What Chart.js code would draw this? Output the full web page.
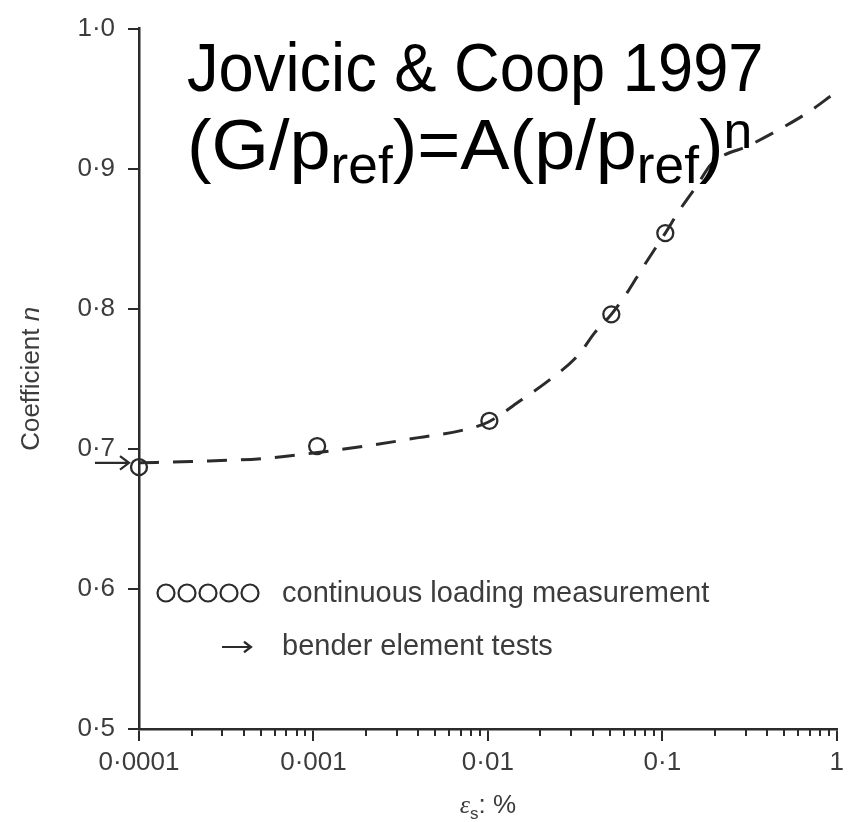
<!DOCTYPE html>
<html>
<head>
<meta charset="utf-8">
<script src="https://cdn.jsdelivr.net/npm/chart.js@4/dist/chart.umd.min.js"></script>
<style>
html,body{margin:0;padding:0;background:#fff;}
#wrap{position:relative;width:850px;height:822px;overflow:hidden;}
canvas{position:absolute;left:0;top:0;}
.tl{position:absolute;left:187px;font-family:"Liberation Sans",Arial,Helvetica,sans-serif;line-height:1;color:#000;white-space:nowrap;transform-origin:0 0;}
.tl .sb{font-size:0.72em;position:relative;top:0.27em;}
.tl .sp{font-size:0.7em;position:relative;top:-0.42em;}
</style>
</head>
<body>
<div id="wrap">
<canvas id="c" width="850" height="822"></canvas>
<div class="tl" id="t1" style="top:33px;font-size:68px;transform:scaleX(0.93);">Jovicic &amp; Coop 1997</div>
<div class="tl" id="t2" style="top:109px;font-size:71px;transform:scaleX(1.04);">(G/p<span class="sb">ref</span>)=A(p/p<span class="sb">ref</span>)<span class="sp">n</span></div>
</div>
<script>
// ---- data ----
const curveX = [0.0001,0.0002,0.0005,0.001,0.002,0.004,0.007,0.01,0.0156,0.023,0.033,0.041,0.051,0.064,0.076,0.091,0.104,0.125,0.16,0.19,0.32,0.5,0.7,0.95];
const curveY = [0.690,0.691,0.693,0.697,0.702,0.708,0.713,0.719,0.735,0.750,0.767,0.783,0.796,0.813,0.828,0.843,0.854,0.870,0.889,0.903,0.917,0.930,0.941,0.953];
const measX = [0.0001,0.00105,0.0102,0.051,0.104];
const measY = [0.687,0.702,0.720,0.796,0.854];
const benderX = [0.0001];
const benderY = [0.690];
const xTickValues = [0.0001,0.001,0.01,0.1,1];
const xTickLabels = ['0·0001','0·001','0·01','0·1','1'];
const yTickValues = [0.5,0.6,0.7,0.8,0.9,1.0];
const yTickLabels = ['0·5','0·6','0·7','0·8','0·9','1·0'];
const legendLabels = ['continuous loading measurement','bender element tests'];

const FONT = '"Liberation Sans", Arial, Helvetica, sans-serif';
const INK = '#2b2b2b';
const TXT = '#3c3c3c';

function arrow(ctx, x0, y0, x1, head){
  ctx.beginPath();
  ctx.moveTo(x0,y0); ctx.lineTo(x1,y0);
  ctx.moveTo(x1-head, y0-head*0.75); ctx.lineTo(x1,y0); ctx.lineTo(x1-head, y0+head*0.75);
  ctx.stroke();
}

const extras = {
  id:'extras',
  afterDraw(chart){
    const {ctx, scales:{x,y}, chartArea:ca} = chart;
    ctx.save();
    // minor log ticks
    ctx.strokeStyle = INK; ctx.lineWidth = 2;
    for(let i=0;i<xTickValues.length-1;i++){
      for(let k=2;k<=9;k++){
        const px = Math.round(x.getPixelForValue(xTickValues[i]*k));
        ctx.beginPath(); ctx.moveTo(px, ca.bottom); ctx.lineTo(px, ca.bottom+7); ctx.stroke();
      }
    }
    // bender element arrow
    ctx.lineWidth = 2.2;
    const bx = x.getPixelForValue(benderX[0]) - 10;
    const by = y.getPixelForValue(benderY[0]);
    arrow(ctx, bx-34, by, bx, 9);
    // legend
    ctx.lineWidth = 2.2;
    for(let i=0;i<5;i++){
      ctx.beginPath(); ctx.arc(166+i*21, 593, 8.5, 0, Math.PI*2); ctx.stroke();
    }
    ctx.fillStyle = TXT;
    ctx.font = '29px ' + FONT;
    ctx.textBaseline = 'middle'; ctx.textAlign = 'left';
    ctx.fillText(legendLabels[0], 282, 594);
    arrow(ctx, 222, 647, 251, 7);
    ctx.fillText(legendLabels[1], 282, 647);
    // y axis title
    ctx.save();
    ctx.translate(32, (ca.top+ca.bottom)/2);
    ctx.rotate(-Math.PI/2);
    ctx.font = '26px ' + FONT; const wa = ctx.measureText('Coefficient ').width;
    ctx.font = 'italic 26px ' + FONT; const wn = ctx.measureText('n').width;
    let sx = -(wa+wn)/2;
    ctx.textAlign='left';
    ctx.font = '26px ' + FONT; ctx.fillText('Coefficient ', sx, 0);
    ctx.font = 'italic 26px ' + FONT; ctx.fillText('n', sx+wa, 0);
    ctx.restore();
    // x axis title
    const cx = (ca.left+ca.right)/2, cy = 806;
    ctx.font = 'italic 26px "Liberation Serif", serif'; const we = ctx.measureText('ε').width;
    ctx.font = '17px ' + FONT; const ws = ctx.measureText('s').width;
    ctx.font = '26px ' + FONT; const wr = ctx.measureText(': %').width;
    let xx = cx - (we+ws+wr)/2;
    ctx.font = 'italic 26px "Liberation Serif", serif'; ctx.fillText('ε', xx, cy); xx += we;
    ctx.font = '17px ' + FONT; ctx.fillText('s', xx, cy+8); xx += ws;
    ctx.font = '26px ' + FONT; ctx.fillText(': %', xx, cy);
    ctx.restore();
  }
};

new Chart(document.getElementById('c'), {
  type:'line',
  data:{
    datasets:[
      {
        label:'curve',
        data: curveX.map((v,i)=>({x:v,y:curveY[i]})),
        borderColor: INK, borderWidth: 3, borderDash:[20,14],
        pointRadius:0, fill:false, cubicInterpolationMode:'monotone'
      },
      {
        label: legendLabels[0],
        data: measX.map((v,i)=>({x:v,y:measY[i]})),
        showLine:false, pointRadius:8, pointBorderWidth:2.3,
        pointBorderColor: INK, pointBackgroundColor:'rgba(0,0,0,0)', clip:false
      }
    ]
  },
  options:{
    responsive:false, animation:false,
    layout:{padding:{left:0,right:11,top:24,bottom:0}},
    plugins:{legend:{display:false}, tooltip:{enabled:false}},
    scales:{
      x:{
        type:'logarithmic', min:0.0001, max:1,
        afterBuildTicks(s){ s.ticks = xTickValues.map(v=>({value:v})); },
        afterFit(s){ s.height = 93; },
        ticks:{
          autoSkip:false, maxRotation:0, padding:6, color:TXT,
          font:{family:FONT, size:26},
          callback:(v)=>{ const i = xTickValues.findIndex(t=>Math.abs(t-v)/t<1e-6); return i>=0?xTickLabels[i]:''; }
        },
        grid:{drawOnChartArea:false, drawTicks:true, tickLength:12, color:INK, lineWidth:2},
        border:{display:true, color:INK, width:2.5}
      },
      y:{
        type:'linear', min:0.5, max:1.0,
        afterBuildTicks(s){ s.ticks = yTickValues.map(v=>({value:v})); },
        afterFit(s){ s.width = 139; },
        ticks:{
          padding:13, color:TXT, font:{family:FONT, size:26},
          callback:(v)=>{ const i = yTickValues.findIndex(t=>Math.abs(t-v)<1e-6); return i>=0?yTickLabels[i]:''; }
        },
        grid:{drawOnChartArea:false, drawTicks:true, tickLength:11, color:INK, lineWidth:2},
        border:{display:true, color:INK, width:2.5}
      }
    }
  },
  plugins:[extras]
});
</script>
</body>
</html>
